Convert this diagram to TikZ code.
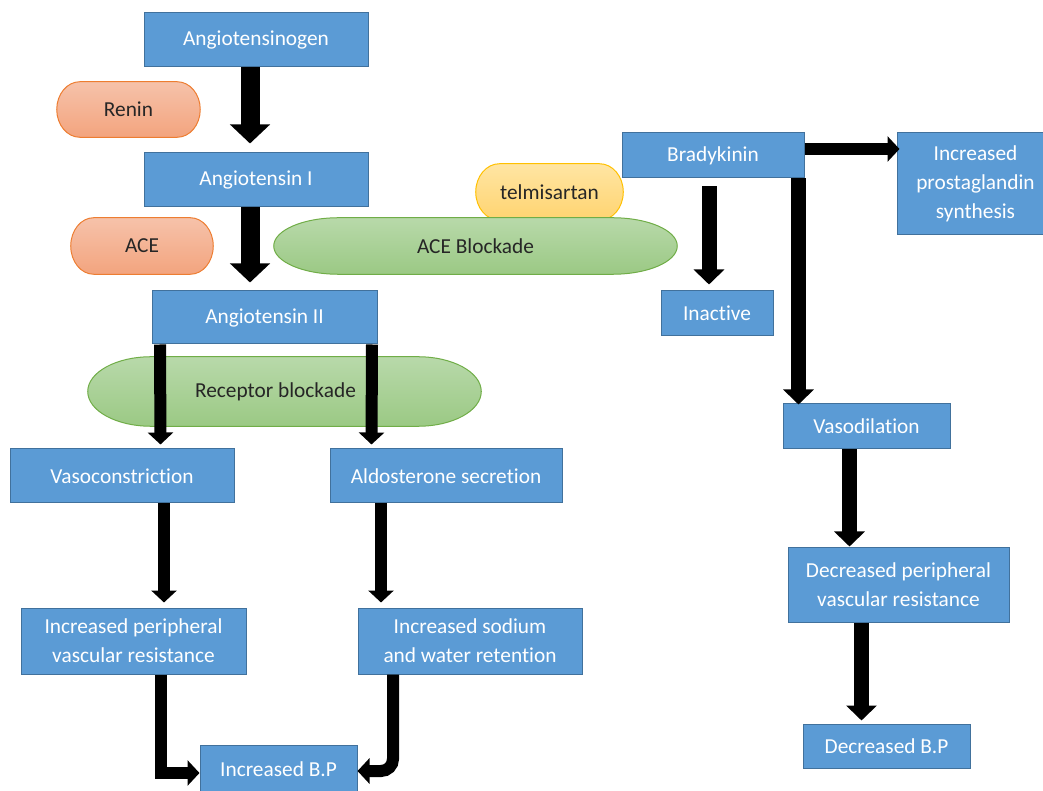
\documentclass[tikz,border=0pt]{standalone}
\usepackage{fontspec}
\setmainfont[Ligatures=NoCommon]{Carlito}
\usepackage{xcolor}
\usetikzlibrary{calc}
\usetikzlibrary{arrows.meta}
\usetikzlibrary{backgrounds}

\definecolor{boxblue}{RGB}{91,155,213}
\definecolor{boxedge}{RGB}{65,113,156}
\definecolor{orangetop}{RGB}{246,194,170}
\definecolor{orangebot}{RGB}{243,164,126}
\definecolor{orangeedge}{RGB}{237,125,49}
\definecolor{greentop}{RGB}{184,217,170}
\definecolor{greenbot}{RGB}{155,201,132}
\definecolor{greenedge}{RGB}{112,173,71}
\definecolor{yellowtop}{RGB}{255,229,163}
\definecolor{yellowbot}{RGB}{255,212,112}
\definecolor{yellowedge}{RGB}{255,192,0}

\tikzset{
  box/.style={draw=boxedge, fill=boxblue, line width=0.75pt, text=white,
    align=center, inner sep=0pt, font=\fontsize{16}{21.75}\selectfont},
  pilltext/.style={text=black!85, inner sep=0pt, minimum height=42pt,
    font=\fontsize{16}{21.75}\selectfont},
  orangepill/.style={draw=orangeedge, line width=0.75pt, top color=orangetop, bottom color=orangebot},
  greenpill/.style={draw=greenedge, line width=0.75pt, top color=greentop, bottom color=greenbot},
  yellowpill/.style={draw=yellowedge, line width=0.75pt, top color=yellowtop, bottom color=yellowbot},
  bigarrow/.style={line width=14.25pt, -{Triangle[width=29.25pt,length=14.25pt]}},
  midarrow/.style={line width=11.25pt, -{Triangle[width=22.5pt,length=11.25pt]}},
  smallarrow/.style={line width=9pt, -{Triangle[width=18.75pt,length=9pt]}},
}

\begin{document}
\begin{tikzpicture}[x=0.75pt, y=-0.75pt]

\useasboundingbox (0,0) rectangle (1043,791);

% renin-angiotensin chain
\node[box, minimum width=168pt, minimum height=40.5pt] (ang0) at (256,40) {Angiotensinogen};
\node[box, minimum width=168pt, minimum height=40.5pt] (ang1) at (256,180) {Angiotensin I};
\node[box, minimum width=168.75pt, minimum height=39.75pt] (ang2) at (264.5,317.5) {Angiotensin II};

\node[box, minimum width=168pt, minimum height=40.5pt] (vasocon) at (122,476) {Vasoconstriction};
\node[box, minimum width=174pt, minimum height=40.5pt] (aldo) at (446,476) {Aldosterone secretion};
\node[box, minimum width=168.75pt, minimum height=49.5pt] (ipvr) at (133.5,641) {Increased peripheral\\vascular resistance};
\node[box, minimum width=168pt, minimum height=49.5pt] (iswr) at (470,641) {Increased sodium\\and water retention};
\node[box, minimum width=117.75pt, minimum height=36pt] (ibp) at (278.5,769) {Increased B.P};

% bradykinin side
\node[box, minimum width=136.5pt, minimum height=33.75pt] (brady) at (713,155.5) {Bradykinin};
\node[box, minimum width=117.75pt, minimum height=76.5pt] (prosta) at (975.5,184) {Increased\\prostaglandin\\synthesis};
\node[box, minimum width=84pt, minimum height=33.75pt] (inactive) at (717,313.5) {Inactive};
\node[box, minimum width=125.25pt, minimum height=33.75pt] (vasodil) at (866.5,426.5) {Vasodilation};
\node[box, minimum width=165.75pt, minimum height=55.5pt] (dpvr) at (898.5,585) {Decreased peripheral\\vascular resistance};
\node[box, minimum width=125.25pt, minimum height=33pt] (dbp) at (886.5,746) {Decreased B.P};

% enzymes and drugs
\node[pilltext, minimum width=107.25pt, minimum height=41.25pt] (renin) at (128.5,109.5) {Renin};
\node[pilltext, minimum width=106.5pt] (ace) at (142,246) {ACE};
\node[pilltext, minimum width=110.25pt] (telmi) at (549.5,192) {telmisartan};
\node[pilltext, minimum width=302.25pt] (aceblock) at (475.5,246) {ACE Blockade};
\node[pilltext, minimum width=294.75pt, minimum height=51.75pt] (recblock) at (284.5,391.5) {Receptor blockade\hspace*{13.5pt}};

% pill outlines with elliptic ends
\begin{scope}[on background layer]
\foreach \pname/\pcol in {renin/orangepill, ace/orangepill, telmi/yellowpill, aceblock/greenpill, recblock/greenpill} {
  \path let \p1=(\pname.south west), \p2=(\pname.north east),
    \n1={0.161*(\x2-\x1)}, \n2={(\y2-\y1)/2} in
    [\pcol] ({\x1+\n1},\y1) -- ({\x2-\n1},\y1)
    arc[start angle=-90, end angle=90, x radius=\n1, y radius=\n2]
    -- ({\x1+\n1},\y2)
    arc[start angle=90, end angle=270, x radius=\n1, y radius=\n2] -- cycle;
}
\end{scope}

% arrows
\draw[bigarrow] ($(ang0.south)+(-6,0)$) -- ($(ang1.north)+(-6,-9)$);
\draw[bigarrow] ($(ang1.south)+(-6,0)$) -- ($(ang2.north)+(-14.5,-8)$);

\draw[smallarrow] ($(ang2.south west)+(8.5,0)$) -- ($(vasocon.north)+(38.5,-4)$);
\draw[smallarrow] ($(ang2.south east)+(-5.5,0)$) -- ($(aldo.north)+(-74.5,-4)$);
\draw[smallarrow] ($(vasocon.south)+(42,0)$) -- ($(ipvr.north)+(30.5,-5)$);
\draw[smallarrow] ($(aldo.south)+(-65,0)$) -- ($(iswr.north)+(-89,-5)$);
\draw[smallarrow] ($(ipvr.south)+(27.5,0)$) |- ($(ibp.west)+(0,4)$);
\draw[smallarrow, rounded corners=9pt] ($(iswr.south)+(-77,0)$) |- ($(ibp.east)+(0,2)$);

\coordinate (bk) at ($(brady.south east)+(-6,0)$);
\draw[midarrow] ($(brady.south)+(-4,8)$) -- ($(inactive.north)+(-8,-6)$);
\draw[midarrow] (bk) -- ($(bk |- vasodil.north)+(0,1)$);
\draw[smallarrow] ($(brady.east)+(0,-6.5)$) -- ($(prosta.west)+(3,-35)$);
\draw[midarrow] ($(vasodil.south)+(-17,0)$) -- ($(dpvr.north)+(-49,-1)$);
\draw[midarrow] ($(dpvr.south)+(-37,0)$) -- ($(dbp.north)+(-25,-3)$);

\end{tikzpicture}
\end{document}
